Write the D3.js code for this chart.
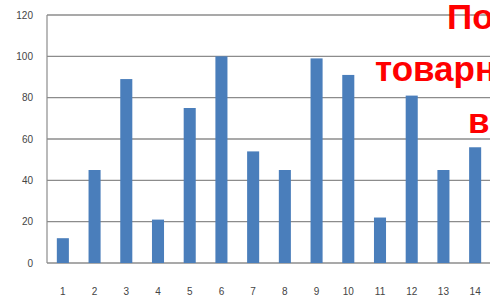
<!DOCTYPE html>
<html>
<head>
<meta charset="utf-8">
<script src="https://cdn.jsdelivr.net/npm/d3@7"></script>
<style>
  body { margin: 0; background: #fff; overflow: hidden; }
  .axis text { font-family: "Liberation Sans", Arial, sans-serif; font-size: 10px; fill: #444; }
</style>
</head>
<body>
<div id="chart"></div>
<script>
// data
var categories = ["1","2","3","4","5","6","7","8","9","10","11","12","13","14"];
var values = [12, 45, 89, 21, 75, 100, 54, 45, 99, 91, 22, 81, 45, 56];
var yTicks = [0, 20, 40, 60, 80, 100, 120];
var titleLines = ["По", "товарн", "ве"];

var width = 490, height = 304,
    margin = {top: 15, right: -1, bottom: 41, left: 47};

var svg = d3.select("#chart").append("svg")
    .attr("width", width)
    .attr("height", height);

var x = d3.scaleBand()
    .domain(categories)
    .range([margin.left, width - margin.right])
    .paddingInner(0.62)
    .paddingOuter(0.31);

var y = d3.scaleLinear()
    .domain([0, 120])
    .range([height - margin.bottom, margin.top]);

// gridlines
svg.append("g")
  .selectAll("line")
  .data(yTicks)
  .enter().append("line")
    .attr("x1", margin.left)
    .attr("x2", width)
    .attr("y1", function(d) { return y(d); })
    .attr("y2", function(d) { return y(d); })
    .attr("stroke", "#8c8c8c")
    .attr("stroke-width", 1.4);

// left axis line
svg.append("line")
    .attr("x1", margin.left).attr("x2", margin.left)
    .attr("y1", y(120)).attr("y2", y(0))
    .attr("stroke", "#8c8c8c")
    .attr("stroke-width", 1.2);

// y tick labels
var yAxis = d3.axisLeft(y).tickValues(yTicks).tickSize(0).tickPadding(14);
svg.append("g")
    .attr("class", "axis")
    .attr("transform", "translate(" + margin.left + ",0)")
    .call(yAxis)
    .call(function(g) { g.select(".domain").remove(); });

// x tick labels
var xAxis = d3.axisBottom(x).tickSize(0).tickPadding(25);
svg.append("g")
    .attr("class", "axis")
    .attr("transform", "translate(0," + y(0) + ")")
    .call(xAxis)
    .call(function(g) { g.select(".domain").remove(); });

// bars
svg.append("g")
  .selectAll("rect")
  .data(values)
  .enter().append("rect")
    .attr("x", function(d, i) { return x(categories[i]); })
    .attr("y", function(d) { return y(d); })
    .attr("width", x.bandwidth())
    .attr("height", function(d) { return y(0) - y(d); })
    .attr("fill", "#4a7ebb");

// red title, clipped at the right edge like the source slide
var titleX = [447, 375, 468];
svg.append("g")
  .selectAll("text")
  .data(titleLines)
  .enter().append("text")
    .attr("x", function(d, i) { return titleX[i]; })
    .attr("y", function(d, i) { return 29 + i * 52; })
    .attr("fill", "#ff0000")
    .style("font-family", "'Liberation Sans', Arial, sans-serif")
    .style("font-weight", "bold")
    .style("font-size", "35px")
    .text(function(d) { return d; });
</script>
</body>
</html>
